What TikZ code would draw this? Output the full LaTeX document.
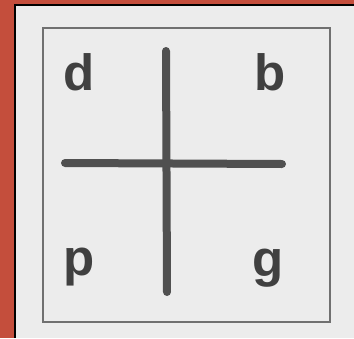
\documentclass[tikz,border=0pt]{standalone}
\usepackage{fontspec}
\usepackage{tikz}
\usetikzlibrary{positioning, calc}
\newfontfamily\lettersans{Liberation Sans}
\definecolor{bgred}{RGB}{196,78,60}
\definecolor{paper}{RGB}{236,236,236}
\definecolor{frame}{RGB}{112,112,112}
\definecolor{ink}{RGB}{80,80,80}
\definecolor{letterink}{RGB}{64,64,64}
\tikzset{
    % the mirrored letters in the four quadrants
    glyph/.style={font=\lettersans\bfseries\fontsize{51}{51}\selectfont, text=letterink,
                  inner sep=0pt, anchor=base},
    % thick strokes of the cross
    bar/.style={line width=8pt, draw=ink, line cap=round},
    % thin square frame
    box/.style={draw=frame, line width=1.6pt},
}

\begin{document}
\begin{tikzpicture}[x=1pt, y=-1pt]

    % ===== background and paper =====
    \useasboundingbox (0, 0) rectangle (354, 338);
    \fill[bgred] (0, 0) rectangle (354, 338);
    \fill[paper] (15, 5) rectangle (354, 338);
    \draw[black, line width=2pt] (15, 338) -- (15, 5) -- (354, 5);

    % ===== square frame =====
    \draw[box] (43, 28) rectangle (330, 322);

    % ===== cross =====
    \coordinate (vtop) at (166, 51);
    \coordinate (vbot) at (167, 292);
    \coordinate (hleft) at (65, 163);
    \coordinate (hright) at (282, 164);
    \draw[bar] (vtop) -- (vbot);
    \draw[bar] (hleft) -- (hright);

    % ===== letters =====
    \node[glyph] (d) at (79, 90)  {d};
    \node[glyph] (b) at (270, 90) {b};
    \node[glyph] (p) at (79, 275) {p};
    \node[glyph] (g) at (268, 276) {g};

\end{tikzpicture}
\end{document}
